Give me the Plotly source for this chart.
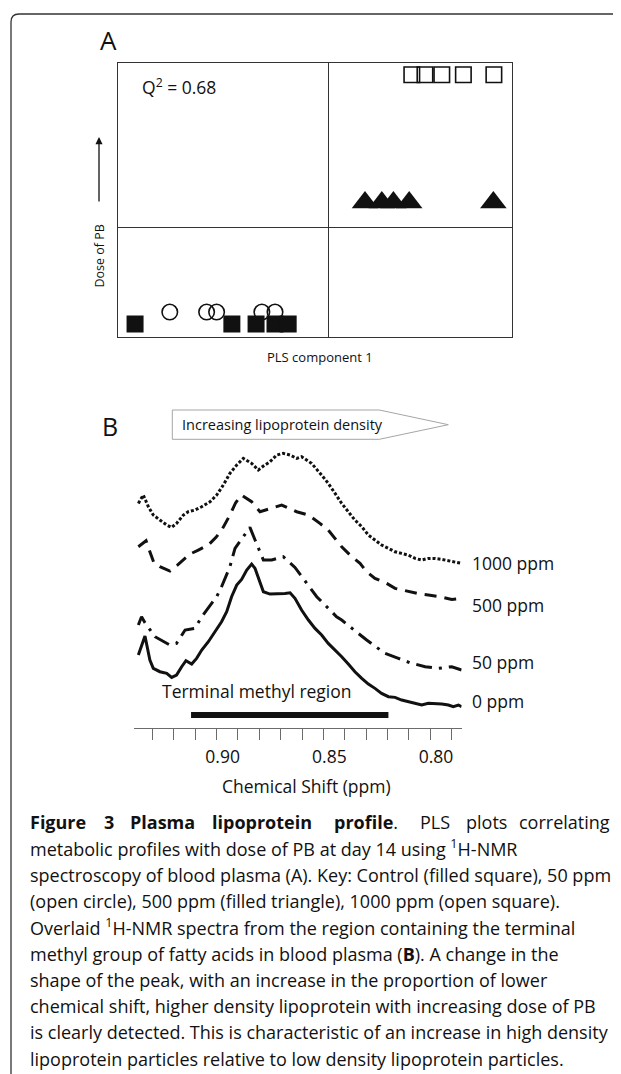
import plotly.graph_objects as go

# ---- Panel A: PLS scores (PLS component 1 vs dose of PB) ----
control_x = [-3.67, -1.83, -1.37, -1.01, -0.76]
control_y = [-1.77, -1.77, -1.77, -1.77, -1.77]
ppm50_x = [-3.01, -2.31, -2.12, -1.26, -1.01]
ppm50_y = [-1.55, -1.55, -1.55, -1.55, -1.55]
ppm500_x = [0.70, 1.02, 1.24, 1.54, 3.14]
ppm500_y = [0.45, 0.45, 0.45, 0.45, 0.45]
ppm1000_x = [1.59, 1.84, 2.16, 2.57, 3.15]
ppm1000_y = [2.78, 2.78, 2.78, 2.78, 2.78]

# ---- Panel B: 1H-NMR spectra (chemical shift in ppm, intensity a.u.) ----
shift_0 = [0.9367, 0.9336, 0.9313, 0.9297, 0.9266, 0.9234, 0.9211, 0.9188, 0.9164, 0.9144,
           0.9117, 0.9094, 0.9070, 0.9039, 0.9008, 0.8977, 0.8953, 0.8930, 0.8906, 0.8883,
           0.8859, 0.8836, 0.8820, 0.8797, 0.8781, 0.8750, 0.8719, 0.8680, 0.8656, 0.8633,
           0.8602, 0.8570, 0.8539, 0.8508, 0.8477, 0.8445, 0.8414, 0.8383, 0.8352, 0.8320,
           0.8289, 0.8258, 0.8227, 0.8195, 0.8164, 0.8133, 0.8102, 0.8070, 0.8039, 0.8008,
           0.7977, 0.7945, 0.7914, 0.7891, 0.7867, 0.7852]
int_0 = [21.8, 27.5, 20.3, 17.8, 16.8, 16.3, 15.1, 15.8, 18.3, 20.1,
         19.1, 20.8, 23.3, 25.8, 28.8, 31.8, 34.8, 39.3, 42.8, 44.5,
         47.3, 49.1, 47.8, 43.3, 40.8, 40.1, 40.1, 40.3, 40.5, 38.8,
         35.3, 32.3, 29.8, 27.8, 25.3, 23.3, 21.3, 19.1, 16.8, 14.8,
         13.1, 11.8, 10.3, 9.3, 9.1, 8.3, 7.8, 7.5, 6.8, 7.3,
         7.3, 7.1, 6.8, 6.3, 6.8, 6.3]

shift_50 = [0.9367, 0.9352, 0.9336, 0.9289, 0.9219, 0.9188, 0.9148, 0.9102, 0.9070, 0.9000,
            0.8977, 0.8938, 0.8914, 0.8875, 0.8844, 0.8820, 0.8781, 0.8742, 0.8688, 0.8633,
            0.8594, 0.8563, 0.8531, 0.8492, 0.8438, 0.8414, 0.8383, 0.8336, 0.8297, 0.8211,
            0.8148, 0.8094, 0.8023, 0.7961, 0.7898, 0.7852]
int_50 = [30.8, 33.3, 31.5, 27.3, 24.8, 25.3, 29.3, 29.8, 33.3, 39.3,
          42.3, 48.3, 53.8, 57.3, 60.1, 56.3, 50.3, 50.3, 51.3, 48.1,
          44.8, 42.3, 39.3, 36.8, 33.3, 32.3, 30.8, 28.3, 26.3, 22.3,
          20.8, 19.5, 18.3, 17.8, 18.3, 17.3]

shift_500 = [0.9367, 0.9331, 0.9313, 0.9294, 0.9266, 0.9219, 0.9184, 0.9156, 0.9125, 0.9086,
             0.9039, 0.9003, 0.8972, 0.8938, 0.8911, 0.8883, 0.8836, 0.8797, 0.8750, 0.8695,
             0.8625, 0.8570, 0.8516, 0.8477, 0.8414, 0.8375, 0.8328, 0.8297, 0.8258, 0.8203,
             0.8164, 0.8102, 0.8047, 0.8008, 0.7953, 0.7898, 0.7852]
int_500 = [54.3, 56.1, 52.8, 49.5, 48.3, 47.0, 48.8, 50.5, 52.1, 53.3,
           54.8, 57.1, 59.8, 63.8, 67.5, 69.8, 67.8, 64.8, 65.8, 66.8,
           64.8, 63.8, 61.3, 59.3, 54.3, 51.8, 49.3, 46.8, 44.8, 43.3,
           41.8, 40.8, 40.1, 39.8, 39.3, 38.5, 38.8]

shift_1000 = [0.9367, 0.9344, 0.9320, 0.9297, 0.9266, 0.9234, 0.9211, 0.9188, 0.9156, 0.9133,
              0.9102, 0.9070, 0.9031, 0.9000, 0.8969, 0.8938, 0.8906, 0.8875, 0.8836, 0.8805,
              0.8781, 0.8750, 0.8719, 0.8688, 0.8656, 0.8625, 0.8602, 0.8555, 0.8508, 0.8477,
              0.8445, 0.8414, 0.8383, 0.8352, 0.8320, 0.8289, 0.8258, 0.8227, 0.8195, 0.8164,
              0.8133, 0.8102, 0.8070, 0.8039, 0.8008, 0.7977, 0.7945, 0.7914, 0.7883, 0.7852]
int_1000 = [67.3, 69.8, 66.3, 63.8, 62.3, 60.8, 60.1, 61.3, 63.8, 64.8,
            65.3, 66.3, 67.8, 69.8, 72.8, 76.3, 78.8, 80.8, 79.3, 77.3,
            78.5, 79.8, 81.8, 82.3, 81.8, 80.8, 81.3, 79.3, 75.8, 73.3,
            70.3, 67.3, 64.8, 62.3, 60.3, 57.8, 56.3, 54.8, 53.8, 52.8,
            52.3, 51.8, 50.8, 50.3, 50.8, 50.8, 50.5, 50.1, 49.8, 49.3]

methyl_region = [0.912, 0.8195]
methyl_level = [3.8, 3.8]

major_ticks = [0.90, 0.85, 0.80]
major_labels = ['0.90', '0.85', '0.80']

# the page body adds an 8px margin, so the figure is 8px smaller and
# every layout position below is given in window pixels and shifted
OFF = 8
W, H = 621 - OFF, 1074 - OFF
FONT = 'Open Sans'
INK = '#111111'
AXIS = '#6b6b6b'


def px(x):
    return (x - OFF) / W


def py(y):
    return 1 - (y - OFF) / H


fig = go.Figure()

# panel A markers
fig.add_trace(go.Scatter(x=control_x, y=control_y, mode='markers',
                         marker=dict(symbol='square', size=17, color=INK, line=dict(width=0))))
fig.add_trace(go.Scatter(x=ppm50_x, y=ppm50_y, mode='markers',
                         marker=dict(symbol='circle-open', size=15.5, color=INK, line=dict(width=1.6))))
fig.add_trace(go.Scatter(x=ppm500_x, y=ppm500_y, mode='markers',
                         marker=dict(symbol='triangle-up', size=23, color=INK, line=dict(width=0))))
fig.add_trace(go.Scatter(x=ppm1000_x, y=ppm1000_y, mode='markers',
                         marker=dict(symbol='square-open', size=15.5, color=INK, line=dict(width=1.6))))

# panel B spectra
spectra = [
    (shift_1000, int_1000, '3px,2px'),
    (shift_500, int_500, '12px,8px'),
    (shift_50, int_50, '16px,7px,3px,7px'),
    (shift_0, int_0, 'solid'),
]
for sx, sy, dash in spectra:
    fig.add_trace(go.Scatter(x=sx, y=sy, mode='lines', xaxis='x2', yaxis='y2',
                             line=dict(color=INK, width=3, dash=dash)))

fig.add_trace(go.Scatter(x=methyl_region, y=methyl_level, mode='lines', xaxis='x2', yaxis='y2',
                         line=dict(color=INK, width=6)))

fig.update_layout(
    width=W, height=H,
    margin=dict(l=0, r=0, t=0, b=0),
    paper_bgcolor='white', plot_bgcolor='white',
    showlegend=False,
    font=dict(family=FONT, color=INK),
    xaxis=dict(domain=[px(117.7), px(512.3)], range=[-4, 3.5], showgrid=False,
               zeroline=True, zerolinecolor='#333', zerolinewidth=1.3,
               showline=True, mirror=True, linecolor='#333', linewidth=1.3,
               showticklabels=False, ticks=''),
    yaxis=dict(domain=[py(336.7), py(62.7)], range=[-2, 3], showgrid=False,
               zeroline=True, zerolinecolor='#333', zerolinewidth=1.3,
               showline=True, mirror=True, linecolor='#333', linewidth=1.3,
               showticklabels=False, ticks=''),
    xaxis2=dict(domain=[px(134.3), px(461.6)], range=[0.9386, 0.7852], anchor='y2',
                showgrid=False, zeroline=False, showline=True, linecolor=AXIS, linewidth=1,
                tickmode='array', tickvals=major_ticks, ticktext=major_labels,
                ticks='outside', ticklen=11, tickwidth=1, tickcolor=AXIS,
                minor=dict(ticks='outside', ticklen=11, tickwidth=1, tickcolor=AXIS,
                           tick0=0.80, dtick=0.01),
                ticklabelstandoff=2, ticklabelshift=-6,
                tickfont=dict(size=17.5, color=INK)),
    yaxis2=dict(domain=[py(727.7), py(444.4)], range=[0, 85], anchor='x2', visible=False),
)

shapes = [
    # outer frame with rounded top-left corner
    dict(type='path', xref='paper', yref='paper',
         path=f'M {px(11)},-0.01 L {px(11)},{py(22)} Q {px(11)},{py(14)} {px(19)},{py(14)} L 1.02,{py(14)}',
         line=dict(color='#333', width=1.3)),
    # pentagon arrow box
    dict(type='path', xref='paper', yref='paper',
         path=(f'M {px(172.3)},{py(410)} L {px(379.3)},{py(410)} L {px(448.3)},{py(424.7)} '
               f'L {px(379.3)},{py(439.3)} L {px(172.3)},{py(439.3)} Z'),
         line=dict(color='#a6a6a6', width=1), fillcolor='white'),
]
fig.update_layout(shapes=shapes)

ann = []


def text(x, y, s, size, xanchor='center', yanchor='middle', angle=0):
    ann.append(dict(x=px(x), y=py(y), xref='paper', yref='paper', text=s, showarrow=False,
                    xanchor=xanchor, yanchor=yanchor, textangle=angle,
                    font=dict(size=size, family=FONT, color=INK)))


text(108.5, 39.7, 'A', 26)
text(109.5, 425.7, 'B', 25)
text(140, 86.7, 'Q<sup>2</sup> = 0.68', 17.5, xanchor='left')
text(99, 256.5, 'Dose of PB', 12.5, angle=-90)
text(319.5, 356.7, 'PLS component 1', 13)
ann.append(dict(x=px(99), y=py(137), xref='paper', yref='paper', text='', showarrow=True,
                ax=0, ay=66, arrowhead=2, arrowsize=1.1, arrowwidth=1.3, arrowcolor=INK))
text(180, 424, 'Increasing lipoprotein density', 14.5, xanchor='left')
text(256.7, 691, 'Terminal methyl region', 17.5)
text(306.7, 786, 'Chemical Shift (ppm)', 17.5)
text(470, 563.3, '1000 ppm', 17.5, xanchor='left')
text(470, 605, '500 ppm', 17.5, xanchor='left')
text(470, 662.3, '50 ppm', 17.5, xanchor='left')
text(470, 701, '0 ppm', 17.5, xanchor='left')

CAP = 18
CAP_Y0, CAP_DY = 822, 26.3

# first caption line is justified in the original: spread its words evenly
first_line = [
    (28, '<b>Figure</b>'), (102, '<b>3</b>'), (128, '<b>Plasma</b>'),
    (209.5, '<b>lipoprotein</b>'), (331.5, '<b>profile</b>.'), (417.5, 'PLS'),
    (463.5, 'plots'),
]
for lx, word in first_line:
    text(lx, CAP_Y0, word, CAP, xanchor='left')
text(612, CAP_Y0, 'correlating', CAP, xanchor='right')

caption = {
    1: 'metabolic profiles with dose of PB at day 14 using <sup>1</sup>H-NMR',
    2: 'spectroscopy of blood plasma (A). Key: Control (filled square), 50 ppm',
    3: '(open circle), 500 ppm (filled triangle), 1000 ppm (open square).',
    4: 'Overlaid <sup>1</sup>H-NMR spectra from the region containing the terminal',
    5: 'methyl group of fatty acids in blood plasma (<b>B</b>). A change in the',
    6: 'shape of the peak, with an increase in the proportion of lower',
    7: 'chemical shift, higher density lipoprotein with increasing dose of PB',
    8: 'is clearly detected. This is characteristic of an increase in high density',
    9: 'lipoprotein particles relative to low density lipoprotein particles.',
}
for i, line in caption.items():
    text(28, CAP_Y0 + CAP_DY * i, line, CAP, xanchor='left')

fig.update_layout(annotations=ann)

fig.write_html('out.html')
